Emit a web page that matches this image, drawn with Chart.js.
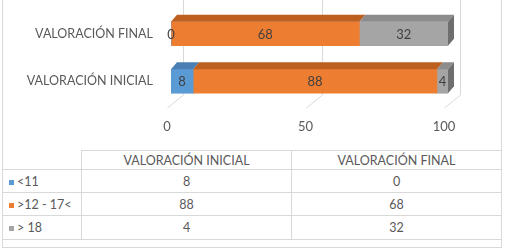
<!DOCTYPE html>
<html>
<head>
<meta charset="utf-8">
<script src="https://cdn.jsdelivr.net/npm/chart.js@4.4.1/dist/chart.umd.min.js"></script>
<style>
  html, body { margin: 0; padding: 0; background: #fff; }
  #wrap { position: relative; width: 507px; height: 248px; overflow: hidden; font-family: Lato, 'Liberation Sans', sans-serif; }
  #frame { position: absolute; left: 2px; top: -2px; width: 498px; height: 248px; border: 1px solid #d9d9d9; }
  #myChart { position: absolute; left: 0; top: 0; }
  #tabla { position: absolute; left: 2px; top: 150px; border-collapse: collapse; table-layout: fixed; color: #595959; font-size: 12.5px; }
  #tabla td { border: 1px solid #d9d9d9; text-align: center; padding: 0; white-space: nowrap; }
  #tabla td.serie { text-align: left; padding-left: 6px; }
  #tabla td.vacio { border-top: none; border-left: none; }
  .clave { display: inline-block; width: 5px; height: 5px; margin-right: 3px; vertical-align: 1px; }
</style>
</head>
<body>
<div id="wrap">
  <div id="frame"></div>
  <canvas id="myChart" width="507" height="140"></canvas>
  <table id="tabla"></table>
</div>
<script>
const categorias = ['VALORACIÓN INICIAL', 'VALORACIÓN FINAL'];
const series = ['<11', '>12 - 17<', '> 18'];
const menor11 = [8, 0];
const entre12y17 = [88, 68];
const mayor18 = [4, 32];
const colores = ['#5b9bd5', '#ed7d31', '#a5a5a5'];
const coloresTapa = ['#497fb3', '#bc5f1f', '#8c8c8c'];
const coloresLado = ['#3f6f9c', '#a5521a', '#6e6e6e'];

const valores = [menor11, entre12y17, mayor18];

// 3D look: top faces, right side face, back wall gridlines and value labels
const efecto3D = {
    id: 'efecto3D',
    beforeDatasetsDraw(chart){
        const ctx = chart.ctx;
        const x = chart.scales.x;
        const area = chart.chartArea;
        const fondoY = area.bottom - 10;
        const frenteY = area.bottom + 3;
        ctx.save();
        ctx.strokeStyle = '#d9d9d9';
        ctx.lineWidth = 1;
        x.ticks.forEach(t => {
            const px = Math.round(x.getPixelForValue(t.value)) + 0.5;
            ctx.beginPath();
            ctx.moveTo(px + 12, 0);
            ctx.lineTo(px + 12, fondoY);
            ctx.lineTo(px - 4, frenteY);
            ctx.stroke();
        });
        ctx.restore();
    },
    afterDatasetsDraw(chart){
        const ctx = chart.ctx;
        const dx = 6, dy = 7;
        ctx.save();
        for ( let i = 0 ; i < categorias.length ; i++){
            let ultimo = null;
            chart.data.datasets.forEach((ds, d) => {
                const el = chart.getDatasetMeta(d).data[i];
                const x0 = Math.min(el.base, el.x);
                const x1 = Math.max(el.base, el.x);
                const yTop = el.y - el.height / 2;
                if ( x1 - x0 > 0 ){
                    ctx.fillStyle = coloresTapa[d];
                    ctx.beginPath();
                    ctx.moveTo(x0, yTop);
                    ctx.lineTo(x1, yTop);
                    ctx.lineTo(x1 + dx, yTop - dy);
                    ctx.lineTo(x0 + dx, yTop - dy);
                    ctx.closePath();
                    ctx.fill();
                    ultimo = {d: d, el: el, x1: x1, yTop: yTop};
                }
            });
            if ( ultimo ){
                const yBot = ultimo.el.y + ultimo.el.height / 2;
                ctx.fillStyle = coloresLado[ultimo.d];
                ctx.beginPath();
                ctx.moveTo(ultimo.x1, ultimo.yTop);
                ctx.lineTo(ultimo.x1 + dx, ultimo.yTop - dy);
                ctx.lineTo(ultimo.x1 + dx, yBot - dy);
                ctx.lineTo(ultimo.x1, yBot);
                ctx.closePath();
                ctx.fill();
            }
        }
        ctx.fillStyle = '#404040';
        ctx.font = '13px Lato, "Liberation Sans", sans-serif';
        ctx.textAlign = 'center';
        ctx.textBaseline = 'middle';
        chart.data.datasets.forEach((ds, d) => {
            chart.getDatasetMeta(d).data.forEach((el, i) => {
                ctx.fillText(ds.data[i], (el.x + el.base) / 2, el.y + 1);
            });
        });
        ctx.restore();
    }
};

const data = {
    labels: categorias,
    datasets: series.map((s, d) => ({
        label: s,
        data: valores[d],
        backgroundColor: colores[d],
        borderWidth: 0,
        barThickness: 24
    }))
};

new Chart('myChart', {
    type: 'bar',
    data: data,
    plugins: [efecto3D],
    options: {
        indexAxis: 'y',
        responsive: false,
        animation: false,
        layout: { padding: { top: 10, right: 59, bottom: 0, left: 0 } },
        plugins: {
            legend: { display: false },
            tooltip: { enabled: false }
        },
        scales: {
            x: {
                stacked: true,
                min: 0,
                max: 100,
                grid: { display: false, drawTicks: false },
                border: { display: false },
                afterFit: function(scale){ scale.height = 35; },
                ticks: {
                    stepSize: 50,
                    padding: 14,
                    labelOffset: -4,
                    color: '#595959',
                    font: { family: 'Lato', size: 13 }
                }
            },
            y: {
                stacked: true,
                reverse: true,
                grid: { display: false, drawTicks: false },
                border: { display: false },
                afterFit: function(scale){
                    scale.width = 171;
                    scale.paddingTop = 0;
                    scale.paddingBottom = 0;
                },
                ticks: {
                    padding: 18,
                    color: '#595959',
                    font: { family: 'Lato', size: 12.5 }
                }
            }
        }
    }
});

// data table under the chart
const anchos = [79, 210, 210];
const altos = [19, 23, 23, 24];
let html = '<colgroup>' + anchos.map(w => '<col style="width:' + w + 'px">').join('') + '</colgroup>';
html += '<tr style="height:' + altos[0] + 'px"><td class="vacio"></td>' + categorias.map(c => '<td>' + c + '</td>').join('') + '</tr>';
series.forEach((s, d) => {
    html += '<tr style="height:' + altos[d + 1] + 'px"><td class="serie"><span class="clave" style="background:' + colores[d] + '"></span>' + s.replace('<', '&lt;').replace('>', '&gt;') + '</td>';
    valores[d].forEach(v => { html += '<td>' + v + '</td>'; });
    html += '</tr>';
});
document.getElementById('tabla').innerHTML = html;
</script>
</body>
</html>
